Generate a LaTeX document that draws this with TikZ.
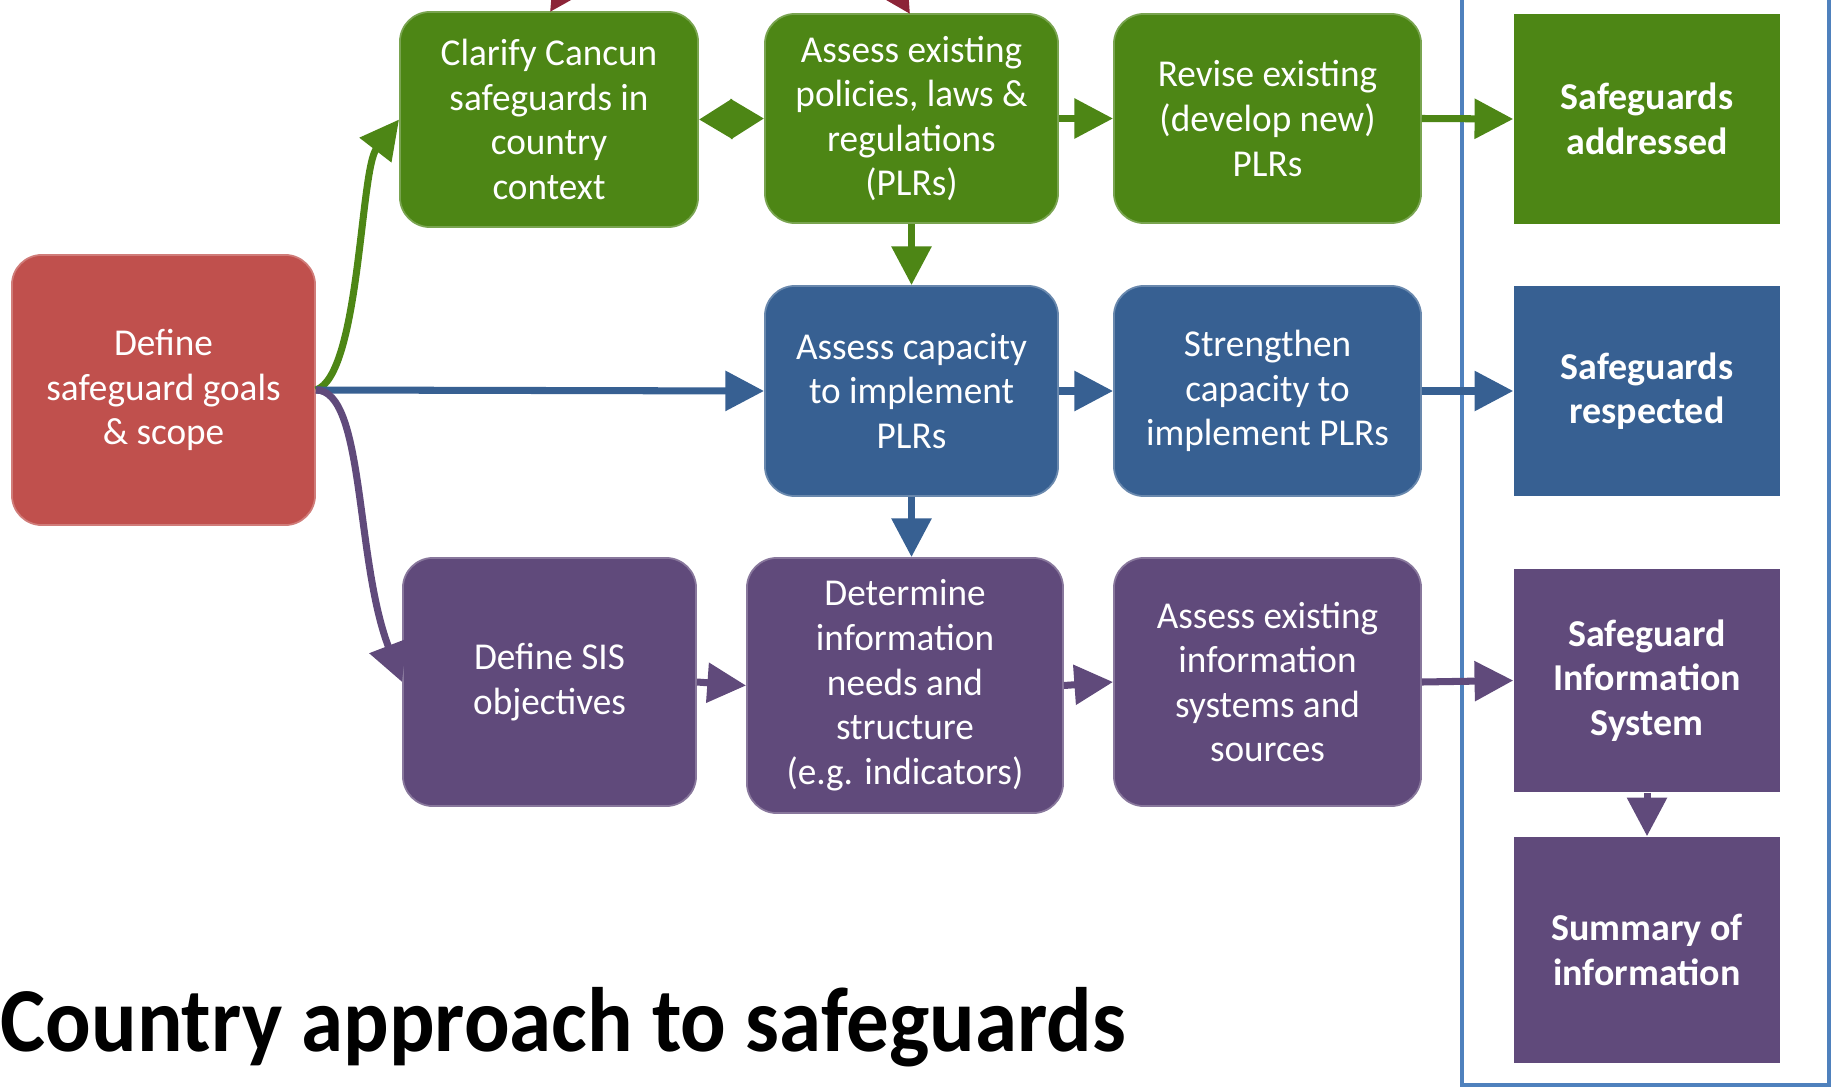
\documentclass[tikz,border=0pt]{standalone}
\usepackage{fontspec}
\setmainfont{Carlito}
\newfontfamily\titlefont[FakeStretch=0.93]{Carlito}
\newfontfamily\boxfont[FakeStretch=0.98]{Carlito}
\usepackage{tikz}
\usetikzlibrary{arrows.meta}
\definecolor{gr}{HTML}{4D8615}
\definecolor{bl}{HTML}{376092}
\definecolor{pu}{HTML}{604A7B}
\definecolor{rd}{HTML}{C0504D}
\definecolor{drd}{HTML}{8C2438}
\definecolor{fr}{HTML}{4F81BD}
\begin{document}
\begin{tikzpicture}[x=0.01cm,y=-0.01cm,
  stepbox/.style={rounded corners=0.3cm,fill=#1,draw=#1!75!white,line width=0.5pt,text=white,align=center,
    font=\boxfont\fontsize{10.8}{12.7}\selectfont,inner sep=0pt},
  outcome/.style={fill=#1,text=white,align=center,font=\fontsize{10.8}{12.7}\selectfont\bfseries,inner sep=0pt},
  link/.style={draw=#1,line width=2pt,-{Triangle[length=11pt,width=11pt]}}]
\useasboundingbox (0,0) rectangle (1831,1088);
\clip (0,0) rectangle (1831,1088);

% left box
\node [stepbox=rd,minimum width=3.03cm,minimum height=2.70cm] (def) at (163.5,390) {Define\\safeguard goals\\\& scope};

% green row
\node [stepbox=gr,minimum width=2.98cm,minimum height=2.15cm] (clar) at (549,119.5) {Clarify Cancun\\safeguards in\\country\\context};
\node [stepbox=gr,minimum width=2.93cm,minimum height=2.09cm] (aplr) at (911.5,118.5) {Assess existing\\policies, laws \&\\regulations\\(PLRs)};
\node [stepbox=gr,minimum width=3.07cm,minimum height=2.09cm] (rev) at (1267.5,118.5) {Revise existing\\(develop new)\\PLRs};
\node [outcome=gr,minimum width=2.66cm,minimum height=2.10cm] (sadd) at (1647,119) {Safeguards\\addressed};

% blue row
\node [stepbox=bl,minimum width=2.93cm,minimum height=2.10cm] (acap) at (911.5,391) {Assess capacity\\to implement\\PLRs};
\node [stepbox=bl,minimum width=3.07cm,minimum height=2.10cm] (str) at (1267.5,391) {Strengthen\\capacity to\\implement PLRs};
\node [outcome=bl,minimum width=2.66cm,minimum height=2.10cm] (sres) at (1647,391) {Safeguards\\respected};

% purple row
\node [stepbox=pu,minimum width=2.93cm,minimum height=2.48cm] (dsis) at (549.5,682) {Define SIS\\objectives};
\node [stepbox=pu,minimum width=3.16cm,minimum height=2.55cm] (det) at (905,685.5) {Determine\\information\\needs and\\structure\\(e.g. indicators)};
\node [stepbox=pu,minimum width=3.07cm,minimum height=2.48cm] (ainf) at (1267.5,682) {Assess existing\\information\\systems and\\sources};
\node [outcome=pu,minimum width=2.66cm,minimum height=2.23cm] (sis) at (1647,680.5) {Safeguard\\Information\\System};
\node [outcome=pu,minimum width=2.66cm,minimum height=2.26cm] (summ) at (1647,950) {Summary of\\information};

\node [anchor=base west,inner sep=0pt,font=\titlefont\fontsize{26}{30}\selectfont\bfseries] (title) at (0,1051) {Country approach to safeguards};

% frame
\draw [fr,line width=1.4pt] (1462,-20) rectangle (1829,1085);

% arrows from above
\coordinate (up1) at (590,-50);
\coordinate (up2) at (870,-50);
\draw [link=drd] (up1) -- (550,12);
\draw [link=drd] (up2) -- (910,14);

% connectors
\draw [link=gr] (def.east) .. controls (360,375) and (360,170) .. (clar.west);
\draw [link=bl] (def.east) -- (acap.west);
\draw [link=pu] (def.east) .. controls (365,390) and (355,560) .. (dsis.west);
\draw [link=gr,{Triangle[length=9.5pt,width=11pt]}-{Triangle[length=9.5pt,width=11pt]}] (clar.east) -- (aplr.west);
\draw [link=gr] (aplr.east) -- (rev.west);
\draw [link=gr] (rev.east) -- (sadd.west);
\draw [link=gr] (aplr.south) -- (acap.north);
\draw [link=bl] (acap.east) -- (str.west);
\draw [link=bl] (str.east) -- (sres.west);
\draw [link=bl] (acap.south) -- (acap.south |- det.north);
\draw [link=pu] (dsis.east) -- (det.west);
\draw [link=pu] (det.east) -- (ainf.west);
\draw [link=pu] (ainf.east) -- (sis.west);
\draw [link=pu] (sis.south) -- (summ.north);
\end{tikzpicture}
\end{document}
